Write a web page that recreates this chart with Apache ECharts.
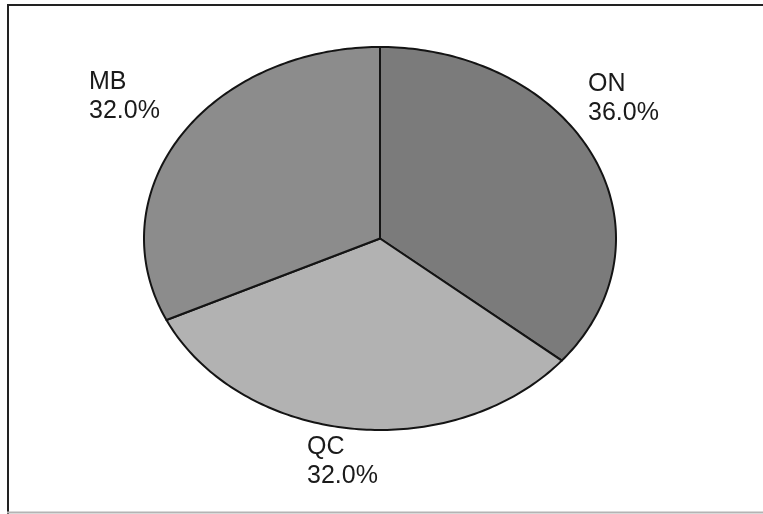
<!DOCTYPE html>
<html>
<head>
<meta charset="utf-8">
<script src="https://cdn.jsdelivr.net/npm/echarts@6/dist/echarts.min.js"></script>
<style>
html,body{margin:0;padding:0;background:#fff;}
#c{width:763px;height:514px;}
</style>
</head>
<body>
<div id="c"></div>
<script>
// ---- data ----
var categories = ['ON', 'QC', 'MB'];
var values = [36.0, 32.0, 32.0];
var colors = ['#7b7b7b', '#b2b2b2', '#8c8c8c'];

// ---- layout (positions / sizes only) ----
var ellipse = { cx: 380, cy: 238.5, rx: 236, ry: 191.5 };
var labelPos = { ON: [588, 70], QC: [307, 433], MB: [89, 68] };

var total = values.reduce(function (a, b) { return a + b; }, 0);
var starts = [];
(function () { var acc = 0; for (var i = 0; i < values.length; i++) { starts.push(acc); acc += values[i]; } })();

var chart = echarts.init(document.getElementById('c'), null, { renderer: 'canvas' });

function renderItem(params, api) {
  var i = params.dataIndex;
  var v = api.value(0);
  var a0 = starts[i] / total * Math.PI * 2;
  var a1 = (starts[i] + v) / total * Math.PI * 2;
  var pts = [[ellipse.cx, ellipse.cy]];
  var n = Math.max(8, Math.ceil((a1 - a0) / (Math.PI * 2) * 360));
  for (var k = 0; k <= n; k++) {
    var a = a0 + (a1 - a0) * k / n;
    pts.push([ellipse.cx + ellipse.rx * Math.sin(a), ellipse.cy - ellipse.ry * Math.cos(a)]);
  }
  var name = categories[i];
  var lp = labelPos[name];
  return {
    type: 'group',
    children: [
      {
        type: 'polygon',
        shape: { points: pts },
        style: { fill: colors[i], stroke: '#141414', lineWidth: 2, lineJoin: 'round' }
      },
      {
        type: 'text',
        x: lp[0], y: lp[1],
        style: {
          text: name + '\n' + v.toFixed(1) + '%',
          font: '25px "Liberation Sans", Arial, sans-serif',
          fill: '#1a1a1a',
          lineHeight: 29,
          align: 'left',
          verticalAlign: 'top'
        }
      }
    ]
  };
}

chart.setOption({
  animation: false,
  backgroundColor: '#ffffff',
  graphic: [
    { type: 'line', shape: { x1: 7, y1: 5, x2: 763, y2: 5 }, style: { stroke: '#222222', lineWidth: 2 }, z: 10 },
    { type: 'line', shape: { x1: 8, y1: 4, x2: 8, y2: 514 }, style: { stroke: '#222222', lineWidth: 2 }, z: 10 },
    { type: 'line', shape: { x1: 7, y1: 512.5, x2: 763, y2: 512.5 }, style: { stroke: '#b4b4b4', lineWidth: 2 }, z: 10 }
  ],
  series: [{
    type: 'custom',
    coordinateSystem: 'none',
    renderItem: renderItem,
    data: values.map(function (v, i) { return { name: categories[i], value: [v] }; })
  }]
});
</script>
</body>
</html>
